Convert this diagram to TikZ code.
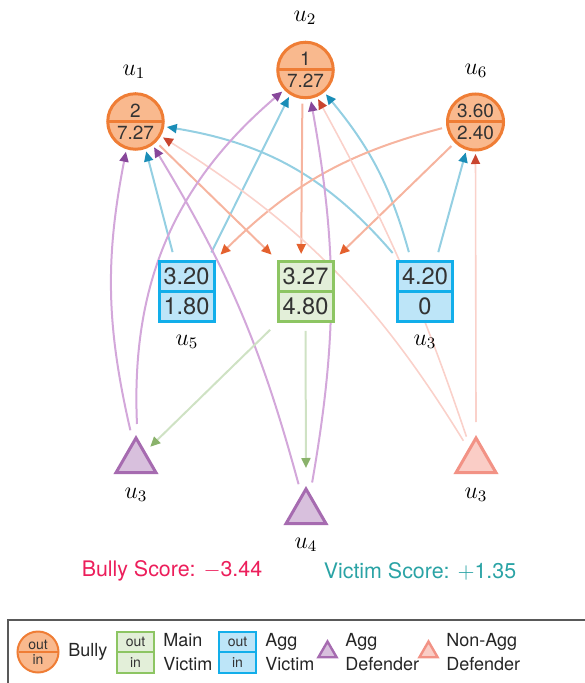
\documentclass[tikz,border=0pt]{standalone}
\usepackage{fontspec}
\setmainfont{TeX Gyre Heros}
\usepackage{tikz}
\usetikzlibrary{shapes.multipart,shapes.geometric,arrows.meta,positioning,backgrounds}

\definecolor{bullyfill}{HTML}{F9B98E}
\definecolor{bullydraw}{HTML}{EF7D35}
\definecolor{aggvfill}{HTML}{BDE5F8}
\definecolor{aggvdraw}{HTML}{12AEEA}
\definecolor{mainvfill}{HTML}{E3EFD9}
\definecolor{mainvdraw}{HTML}{8DC563}
\definecolor{aggdfill}{HTML}{D8C0DD}
\definecolor{aggddraw}{HTML}{A66BB0}
\definecolor{nonafill}{HTML}{FACDC6}
\definecolor{nonadraw}{HTML}{F29285}
\definecolor{blueline}{HTML}{94CFE2}
\definecolor{bluetip}{HTML}{1A8DB7}
\definecolor{purpleline}{HTML}{D3A7DA}
\definecolor{purpletip}{HTML}{87479A}
\definecolor{orangeline}{HTML}{F6B49F}
\definecolor{orangetip}{HTML}{E4612E}
\definecolor{pinkline}{HTML}{FAD1CA}
\definecolor{pinktip}{HTML}{C9452F}
\definecolor{greenline}{HTML}{CFE2C4}
\definecolor{greentip}{HTML}{8AB26B}
\definecolor{bscore}{HTML}{EC1E5B}
\definecolor{vscore}{HTML}{2AA3A5}

\begin{document}
\begin{tikzpicture}[x=0.5pt, y=0.5pt,
  bully/.style={circle split, draw=bullydraw, fill=bullyfill, line width=1.5pt, minimum size=27.5pt, inner xsep=0.3pt, inner ysep=1.3pt, outer sep=1pt, text=black!80, font=\fontsize{9.5}{10}\selectfont},
  aggvic/.style={rectangle split, rectangle split parts=2, draw=aggvdraw, fill=aggvfill, line width=1.5pt, minimum width=27.5pt, inner xsep=1pt, inner ysep=2.6pt, outer sep=2.5pt, text=black!80, font=\fontsize{11.8}{12}\selectfont},
  mainvic/.style={aggvic, draw=mainvdraw, fill=mainvfill},
  aggdef/.style={regular polygon, regular polygon sides=3, draw=aggddraw, fill=aggdfill, line width=1.5pt, minimum size=23pt, inner sep=0pt, outer sep=3pt},
  nonaggdef/.style={aggdef, draw=nonadraw, fill=nonafill},
  ulabel/.style={font=\large},
  link/.style={line width=1pt, shorten <=2pt, shorten >=1pt},
  bluelink/.style={link, draw=blueline, -{Triangle[length=5pt,width=4.5pt,color=bluetip]}},
  purplelink/.style={link, draw=purpleline, -{Triangle[length=5pt,width=4.5pt,color=purpletip]}},
  orangelink/.style={link, draw=orangeline, -{Triangle[length=5pt,width=4.5pt,color=orangetip]}},
  pinklink/.style={link, line width=0.8pt, draw=pinkline, -{Triangle[length=5pt,width=4.5pt,color=pinktip]}},
  greenlink/.style={link, draw=greenline, -{Triangle[length=5pt,width=4.5pt,color=greentip]}},
  legtext/.style={anchor=west, align=left, inner xsep=0pt, font=\fontsize{9}{12}\selectfont, text=black!85},
  legsmall/.style={font=\fontsize{7}{7}\selectfont, line width=1pt}
]
\useasboundingbox (0,0) rectangle (584,-683);

% Bullies
\node[bully] (u1) at (135.5,-121.5) {2\nodepart{lower}7.27};
\node[bully] (u2) at (305.5,-70) {1\nodepart{lower}7.27};
\node[bully] (u6) at (475.5,-122) {3.60\nodepart{lower}2.40};
\node[ulabel] at (134,-72) {$u_1$};
\node[ulabel] at (305,-18) {$u_2$};
\node[ulabel] at (476,-71) {$u_6$};

% Victims
\node[aggvic] (u5box) at (186.5,-291.5) {3.20\nodepart{two}1.80};
\node[mainvic] (mainv) at (305.5,-291.5) {3.27\nodepart{two}4.80};
\node[aggvic] (u3box) at (425,-291.5) {4.20\nodepart{two}0};
\node[ulabel] at (187,-342) {$u_5$};
\node[ulabel] at (425,-342) {$u_3$};

% Defenders
\node[aggdef] (aggd) at (136,-461) {};
\node[aggdef] (u4) at (306,-512) {};
\node[nonaggdef] (nonagg) at (476,-461) {};
\node[ulabel] at (136,-495) {$u_3$};
\node[ulabel] at (306,-545) {$u_4$};
\node[ulabel] at (476,-495) {$u_3$};

\begin{scope}[on background layer]
% Agg victims -> bullies
\draw[bluelink] (u5box.110) -- (u1.-70);
\draw[bluelink] (u5box.57) -- (u2.-122);
\draw[bluelink] (u3box.130) to[bend right=20] (u1.-10);
\draw[bluelink] (u3box.113) to[bend right=12] (u2.-50);
\draw[bluelink] (u3box.71) -- (u6.-108);

% Bullies -> victims
\draw[orangelink] (u1.-45) -- (mainv.north west);
\draw[orangelink] (u2.-96) -- (mainv.97);
\draw[orangelink] (u6.-135) -- (mainv.north east);
\draw[orangelink] (u6.190) to[bend right=15] (u5box.north east);

% Non-agg defender -> bullies
\draw[pinklink] (nonagg.122) to[bend right=13] (u1.-30);
\draw[pinklink] (nonagg.112) to[bend right=5] (u2.-67);
\draw[pinklink] (nonagg.north) -- (u6.south);

% Agg defenders -> bullies
\draw[purplelink] (aggd.100) to[bend left=12] (u1.-108);
\draw[purplelink] (aggd.88) to[bend left=26] (u2.-137);
\draw[purplelink] (u4.105) to[bend right=8] (u1.-54);
\draw[purplelink] (u4.78) to[bend right=10] (u2.-80);

% Main victim -> defenders
\draw[greenlink] (mainv.south west) -- (aggd.45);
\draw[greenlink, shorten >=4.5pt] (mainv.south) -- (u4.north);
\end{scope}

% Scores
\node[font=\fontsize{10.7}{12}\selectfont, text=bscore] (bs) at (172,-571) {Bully Score: $-$3.44};
\node[font=\fontsize{10.7}{12}\selectfont, text=vscore] (vs) at (420,-571) {Victim Score: $+$1.35};

% Legend
\draw[draw=black!65, line width=0.7pt] (8,-620) rectangle (640,-720);
\node[bully, legsmall, minimum size=20.5pt, inner ysep=0.8pt] (lbully) at (38,-652) {out\nodepart{lower}in};
\node[legtext] at (68,-652) {Bully};
\node[mainvic, legsmall, minimum width=18.5pt, inner ysep=2.3pt] (lmain) at (135.5,-652.5) {out\nodepart{two}in};
\node[legtext] at (163,-652) {Main\\Victim};
\node[aggvic, legsmall, minimum width=18.5pt, inner ysep=2.3pt] (lagg) at (237.5,-652.5) {out\nodepart{two}in};
\node[legtext] at (265,-652) {Agg\\Victim};
\node[aggdef, minimum size=10.5pt, line width=1.2pt, outer sep=0pt] (ladef) at (327.5,-652) {};
\node[legtext] at (345,-652) {Agg\\Defender};
\node[nonaggdef, minimum size=10.5pt, line width=1.2pt, outer sep=0pt] (lnadef) at (428.5,-652) {};
\node[legtext] at (446,-652) {Non-Agg\\Defender};

\end{tikzpicture}
\end{document}
